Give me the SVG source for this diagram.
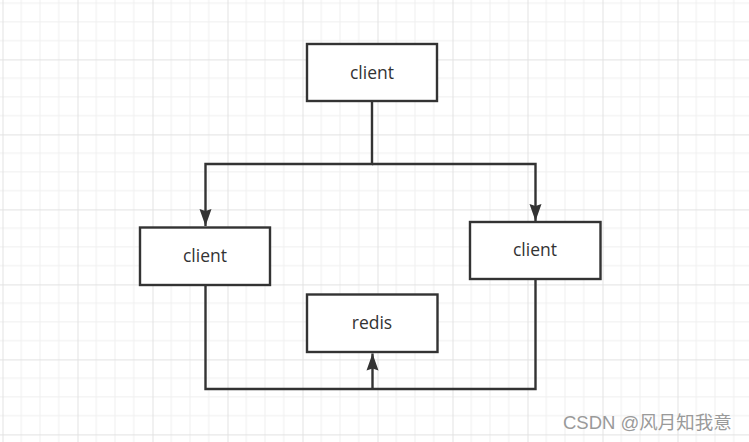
<svg xmlns="http://www.w3.org/2000/svg" width="749" height="442" viewBox="0 0 749 442">
<style>
.box{fill:#fff;stroke:#333;stroke-width:2.4}
.lbl{font-family:"Open Sans","Noto Sans",sans-serif;font-size:17.5px;fill:#333;text-anchor:middle}
.conn{fill:none;stroke:#333;stroke-width:2.4}
.wm{font-family:"Liberation Sans","Noto Sans CJK SC",sans-serif;font-size:18.5px;fill:#9a9a9a}
</style>
<defs>
<pattern id="grid" patternUnits="userSpaceOnUse" x="2.5" y="-15.6" width="75" height="75">
<path d="M18.75 0V75M37.5 0V75M56.25 0V75M0 18.75H75M0 37.5H75M0 56.25H75" stroke="#efefef" stroke-width="1" fill="none"/>
<path d="M0.5 0V75M0 0.5H75" stroke="#e2e2e2" stroke-width="1" fill="none"/>
</pattern>
<marker id="arr" markerUnits="userSpaceOnUse" markerWidth="18" markerHeight="14" refX="17" refY="7" orient="auto">
<path d="M0 1L17 7L0 13L2 7Z" fill="#333"/>
</marker>
</defs>
<rect width="749" height="442" fill="#fff"/>
<rect width="749" height="442" fill="url(#grid)"/>
<g id="connectors">
<path class="conn" d="M372 101V164H205.5V226" marker-end="url(#arr)"/>
<path class="conn" d="M372 164H535.5V221" marker-end="url(#arr)"/>
<path class="conn" d="M205.5 285V389H535.5V279"/>
<path class="conn" d="M372.5 389V353.5" marker-end="url(#arr)"/>
</g>
<g id="client-top">
<rect class="box" x="307" y="44" width="130" height="57"/>
<text class="lbl" x="372" y="78.5">client</text>
</g>
<g id="client-left">
<rect class="box" x="140" y="227.5" width="130" height="57.5"/>
<text class="lbl" x="205" y="261.5">client</text>
</g>
<g id="client-right">
<rect class="box" x="470" y="222" width="130.5" height="57"/>
<text class="lbl" x="535" y="256">client</text>
</g>
<g id="redis">
<rect class="box" x="307" y="294.5" width="130.5" height="57.5"/>
<text class="lbl" x="372" y="329">redis</text>
</g>
<text class="wm" x="563" y="429">CSDN @风月知我意</text>
</svg>
